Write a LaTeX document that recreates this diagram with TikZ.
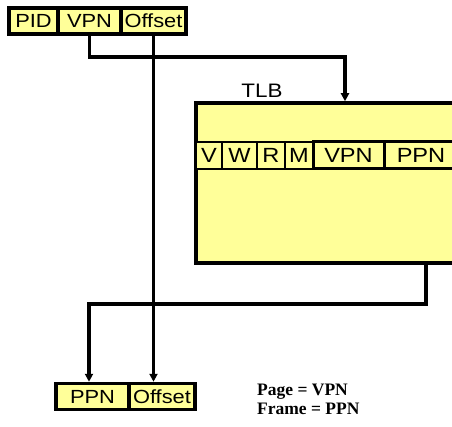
\documentclass[tikz,border=0pt]{standalone}
\usepackage{fontspec}
\usepackage{xcolor}
\usetikzlibrary{arrows.meta}
\newfontfamily\slidefont[FakeStretch=1.15]{Liberation Sans}
\newfontfamily\notefont{Liberation Serif}
\definecolor{tlbYellow}{HTML}{FFFF99}

\begin{document}
\begin{tikzpicture}[x=1pt,y=-1pt,
    field/.style={draw=black,fill=tlbYellow,line width=3.5pt,inner sep=0pt,
      minimum height=26pt,font=\slidefont\fontsize{19}{21}\selectfont},
    flag/.style={draw=black,fill=tlbYellow,line width=2.5pt,inner sep=0pt,
      minimum height=27pt,font=\slidefont\fontsize{20.5}{22}\selectfont},
    conn/.style={line width=3.3pt,-{Triangle[length=8pt,width=8pt]}}]
  \useasboundingbox (0,0) rectangle (452,427);

  % virtual address
  \node[field,minimum width=49pt] (pid) at (33.5,21) {PID};
  \node[field,minimum width=63pt] (vpn) at (89.5,21) {VPN};
  \node[field,minimum width=65pt] (off) at (153.5,21) {Offset};

  % TLB
  \node[draw=black,fill=tlbYellow,line width=3.5pt,minimum width=274pt,
    minimum height=160pt] (tlb) at (333,183) {};
  \node[font=\slidefont\fontsize{19.5}{21}\selectfont] (tlblbl) at (262,91) {TLB};
  \node[flag,minimum width=26pt] (fv) at (209,155.5) {V};
  \node[flag,minimum width=35pt] (fw) at (239.5,155.5) {W};
  \node[flag,minimum width=28pt] (fr) at (271,155.5) {R};
  \node[flag,minimum width=28pt] (fm) at (299,155.5) {M};
  \node[flag,minimum width=71pt,line width=3pt] (tvpn) at (348.5,155.5) {VPN};
  \node[flag,minimum width=74pt,line width=3pt] (tppn) at (421,155.5) {PPN};

  % physical address
  \node[field,minimum width=73pt] (ppn) at (92.5,396.5) {PPN};
  \node[field,minimum width=66pt] (poff) at (162,396.5) {Offset};

  \coordinate (tlbtap) at (345,57);
  \coordinate (tlbout) at (426,0);
  \coordinate (ppnturn) at (89,304);

  \draw[conn] (vpn.south) |- (tlbtap) -- (tlbtap |- tlb.north);
  \draw[conn] (off.south) -- (off.south |- poff.north);
  \draw[conn] (tlbout |- tlb.south) |- (ppnturn) -- (ppnturn |- ppn.north);

  \node[font=\notefont\bfseries\fontsize{17.5}{18.5}\selectfont,align=left,
    anchor=north west,inner sep=0pt] (note) at (257,384) {Page = VPN\\Frame = PPN};
\end{tikzpicture}
\end{document}
